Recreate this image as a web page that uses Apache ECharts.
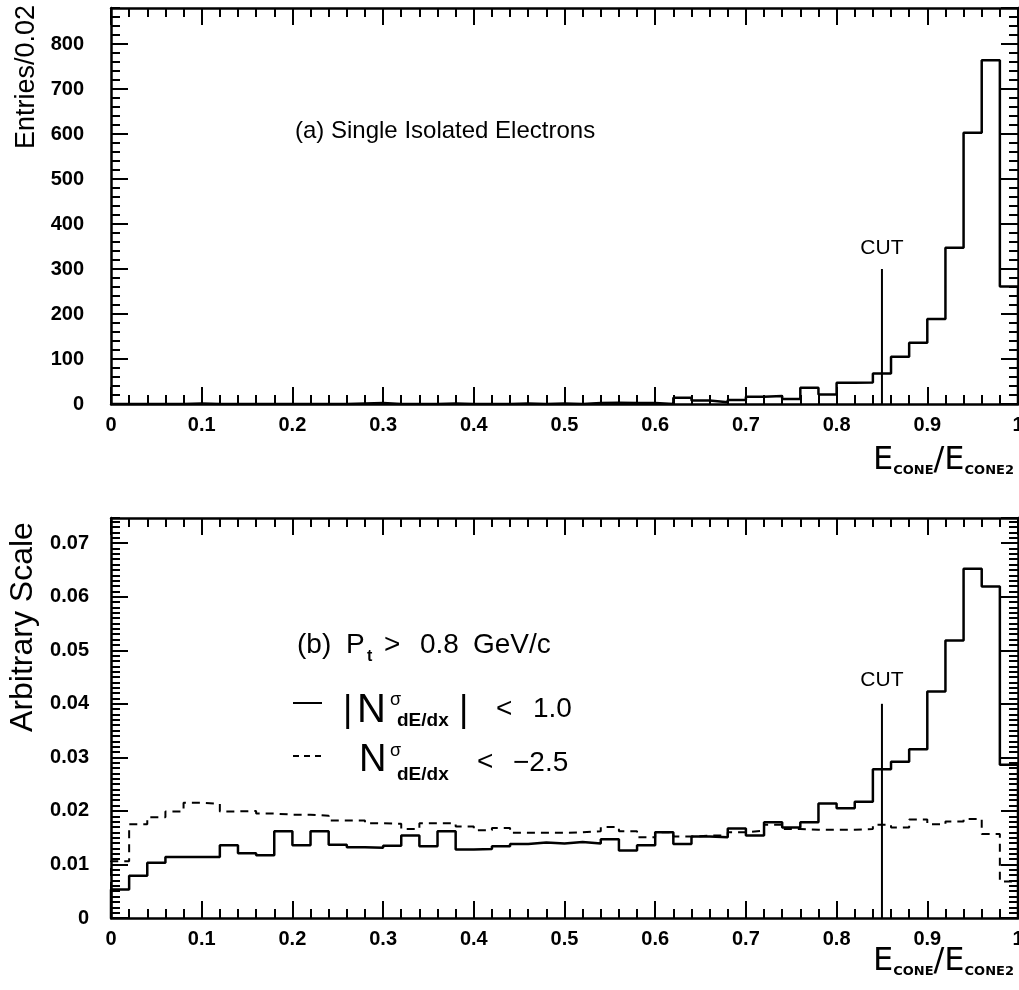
<!DOCTYPE html>
<html><head><meta charset="utf-8">
<script src="https://cdn.jsdelivr.net/npm/echarts@6/dist/echarts.min.js"></script>
<style>html,body{margin:0;padding:0;background:#fff}#c{width:1019px;height:990px}</style>
</head><body><div id="c"></div>
<script>
// ---- data ----
const binEdges = [0.00,0.02,0.04,0.06,0.08,0.10,0.12,0.14,0.16,0.18,
                  0.20,0.22,0.24,0.26,0.28,0.30,0.32,0.34,0.36,0.38,
                  0.40,0.42,0.44,0.46,0.48,0.50,0.52,0.54,0.56,0.58,
                  0.60,0.62,0.64,0.66,0.68,0.70,0.72,0.74,0.76,0.78,
                  0.80,0.82,0.84,0.86,0.88,0.90,0.92,0.94,0.96,0.98,1.00];
// (a) entries per 0.02 bin
const topEntries = [0,0,0,0,1,0,0,0,0,0,
                    0,0,0,1,2,0,0,0,1,0,
                    0,0,1,0,1,0,2,3,2,2,
                    0,14,8,4,9,16,18,11,36,21,
                    47,48,68,105,136,189,347,603,764,261];
// (b) |N| < 1.0 (solid)
const solidScale = [0.0053,0.0079,0.0103,0.0114,0.0114,0.0114,0.0136,0.0121,0.0117,0.0162,
                    0.0136,0.0162,0.0137,0.0132,0.0131,0.0135,0.0154,0.0134,0.0162,0.0128,
                    0.0129,0.0134,0.0138,0.0141,0.0139,0.0142,0.0139,0.0147,0.0126,0.0136,
                    0.0160,0.0138,0.0152,0.0151,0.0167,0.0154,0.0179,0.0169,0.0179,0.0214,
                    0.0205,0.0217,0.0278,0.0292,0.0315,0.0423,0.0518,0.0652,0.0619,0.0286];
// (b) N < -2.5 (dashed)
const dashedScale = [0.0106,0.0175,0.0188,0.0199,0.0215,0.0213,0.0199,0.0200,0.0195,0.0193,
                     0.0193,0.0191,0.0182,0.0182,0.0177,0.0176,0.0166,0.0177,0.0177,0.0171,
                     0.0164,0.0168,0.0159,0.0159,0.0159,0.0160,0.0162,0.0170,0.0162,0.0151,
                     0.0160,0.0152,0.0154,0.0154,0.0160,0.0163,0.0174,0.0166,0.0165,0.0165,
                     0.0165,0.0166,0.0174,0.0169,0.0184,0.0175,0.0180,0.0185,0.0157,0.0068];
const cutX = 0.85;
const cutTopA = 300;
const cutTopB = 0.040;
const topYMax = 880, topYMajor = 100, topYMinor = 20;
const botYMax = 0.0747, botYMajor = 0.01, botYMinor = 0.001;

// ---- helpers ----
const FONT = '"Liberation Sans", Arial, sans-serif';
function histData(vals){
  const d = [[binEdges[0], 0]];
  for (let i = 0; i < vals.length; i++) d.push([binEdges[i], vals[i]]);
  d.push([binEdges[binEdges.length-1], vals[vals.length-1]]);
  d.push([binEdges[binEdges.length-1], 0]);
  return d;
}
function xAx(gi, pos, showLabel, margin){
  return {type:'value', gridIndex:gi, position:pos, min:0, max:1, interval:0.1,
    axisLine:{show:true, onZero:false, lineStyle:{color:'#000', width:2.5}},
    axisTick:{show:true, inside:true, length:17, lineStyle:{color:'#000', width:2}},
    minorTick:{show:true, splitNumber:5, length:9, lineStyle:{color:'#000', width:2}},
    axisLabel:{show:showLabel, margin:margin, color:'#000', fontSize:20, fontWeight:'bold', fontFamily:FONT},
    splitLine:{show:false}};
}
function yAx(gi, pos, max, interval, len, showLabel, showLine, margin){
  return {type:'value', gridIndex:gi, position:pos, min:0, max:max, interval:interval,
    axisLine:{show:showLine, onZero:false, lineStyle:{color:'#000', width:2.5}},
    axisTick:{show:true, inside:true, length:len, lineStyle:{color:'#000', width:2}},
    axisLabel:{show:showLabel, margin:margin, color:'#000', fontSize:20, fontWeight:'bold', fontFamily:FONT, showMaxLabel:false},
    splitLine:{show:false}};
}
function cutSeries(xi, yi, top, dist){
  return {type:'line', xAxisIndex:xi, yAxisIndex:yi, silent:true,
    symbol:'circle', symbolSize:0, showSymbol:true,
    lineStyle:{color:'#000', width:2}, itemStyle:{color:'#000'},
    data:[[cutX,0], {value:[cutX, top], label:{show:true, formatter:'CUT', position:'top', distance:dist,
      color:'#000', fontSize:21, fontFamily:FONT}}], z:4};
}
function txt(x, y, s, size, extra){
  return Object.assign({type:'text', x:x, y:y, silent:true,
    style:Object.assign({text:s, fill:'#000', font: size + 'px ' + FONT, align:'left', verticalAlign:'middle'}, extra||{})});
}
function xName(y){
  return {type:'text', x:873, y:y, silent:true, style:{
    text:'{e|E}{s|CONE}{e|/E}{s|CONE2}', align:'left', verticalAlign:'middle', fill:'#000',
    rich:{ e:{fontSize:32, fontFamily:'"DejaVu Sans", sans-serif', lineHeight:32, fill:'#000'},
           s:{fontSize:13, fontWeight:'bold', fontFamily:'"DejaVu Sans", sans-serif', lineHeight:21, verticalAlign:'bottom', fill:'#000'} }}};
}

const chart = echarts.init(document.getElementById('c'), null, {renderer:'canvas'});
chart.setOption({
  animation:false,
  backgroundColor:'#fff',
  grid:[{left:111, right:1, top:8, height:396, outerBoundsMode:'none', containLabel:false},
        {left:111, right:1, top:518, height:400, outerBoundsMode:'none', containLabel:false}],
  xAxis:[xAx(0,'bottom',true,11), xAx(0,'top',false,8), xAx(1,'bottom',true,11), xAx(1,'top',false,8)],
  yAxis:[
    yAx(0,'left',topYMax,topYMajor,17,true,true,27),
    yAx(0,'left',topYMax,topYMinor,9,false,false,8),
    yAx(0,'right',topYMax,topYMajor,17,false,true,8),
    yAx(0,'right',topYMax,topYMinor,9,false,false,8),
    yAx(1,'left',botYMax,botYMajor,17,true,true,22),
    yAx(1,'left',botYMax,botYMinor,9,false,false,8),
    yAx(1,'right',botYMax,botYMajor,17,false,true,8),
    yAx(1,'right',botYMax,botYMinor,9,false,false,8)
  ],
  series:[
    {type:'line', xAxisIndex:0, yAxisIndex:0, step:'end', symbol:'none', silent:true,
     lineStyle:{color:'#000', width:2.5}, data:histData(topEntries), z:3},
    cutSeries(0, 0, cutTopA, 10),
    {type:'line', xAxisIndex:2, yAxisIndex:4, step:'end', symbol:'none', silent:true,
     lineStyle:{color:'#000', width:2.5}, data:histData(solidScale), z:3},
    {type:'line', xAxisIndex:2, yAxisIndex:4, step:'end', symbol:'none', silent:true,
     lineStyle:{color:'#000', width:2, type:[8,6]}, data:histData(dashedScale), z:3},
    cutSeries(2, 4, cutTopB, 13)
  ],
  graphic:[
    {type:'text', x:27, y:77, rotation:Math.PI/2, silent:true,
     style:{text:'Entries/0.02', fill:'#000', font:'27px ' + FONT, align:'center', verticalAlign:'middle'}},
    {type:'text', x:23, y:627, rotation:Math.PI/2, silent:true,
     style:{text:'Arbitrary Scale', fill:'#000', font:'32px ' + FONT, align:'center', verticalAlign:'middle'}},
    txt(295, 131, '(a) Single Isolated Electrons', 24),
    xName(461),
    xName(962),
    // (b) header
    txt(297, 645, '(b)', 28),
    txt(346, 645, 'P', 28),
    txt(367, 657, 't', 16, {font:'bold 16px ' + FONT}),
    txt(384, 645, '>', 28),
    txt(420, 645, '0.8', 28),
    txt(473, 645, 'GeV/c', 28),
    // legend line 1
    {type:'line', silent:true, shape:{x1:293, y1:703, x2:322, y2:703}, style:{stroke:'#000', lineWidth:2}},
    txt(343, 711, '|', 36),
    txt(357, 711, 'N', 40),
    txt(390, 700, 'σ', 18),
    txt(397, 721, 'dE/dx', 19, {font:'bold 19px ' + FONT}),
    txt(459, 711, '|', 36),
    txt(496, 709, '<', 28),
    txt(533, 709, '1.0', 28),
    // legend line 2
    {type:'line', silent:true, shape:{x1:293, y1:756, x2:323, y2:756}, style:{stroke:'#000', lineWidth:2, lineDash:[6,5]}},
    txt(359, 761, 'N', 38),
    txt(390, 751, 'σ', 18),
    txt(397, 775, 'dE/dx', 19, {font:'bold 19px ' + FONT}),
    txt(477, 762, '<', 28),
    txt(513, 763, '−2.5', 28)
  ]
});
</script></body></html>
